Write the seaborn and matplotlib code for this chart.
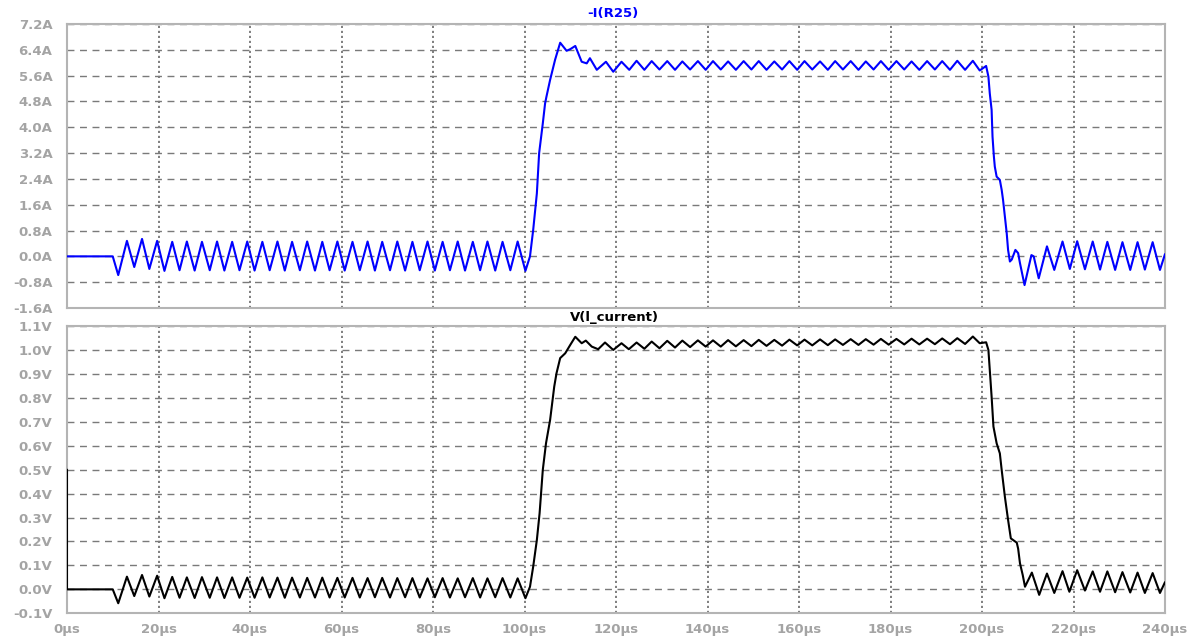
import matplotlib
matplotlib.use('Agg')
import matplotlib.pyplot as plt
import seaborn as sns
import pandas as pd

# ---- data (time in us) ----
# shared ripple extrema before the pulse (peak / trough alternating)
time_low = [10.0, 11.2, 13.1, 14.7, 16.4, 18.0, 19.7, 21.3,
            23.0, 24.6, 26.2, 27.9, 29.5, 31.2, 32.8, 34.4,
            36.1, 37.7, 39.4, 41.0, 42.7, 44.3, 46.0, 47.6,
            49.2, 50.9, 52.5, 54.2, 55.8, 57.4, 59.1, 60.7,
            62.4, 64.0, 65.7, 67.3, 68.9, 70.6, 72.2, 73.9,
            75.5, 77.1, 78.8, 80.4, 82.1, 83.7, 85.4, 87.0,
            88.7, 90.3, 91.9, 93.6, 95.2, 96.9, 98.5, 100.2]
i_low = [0.0, -0.58, 0.48, -0.33, 0.54, -0.39, 0.48, -0.45,
         0.45, -0.43, 0.46, -0.44, 0.45, -0.43, 0.46, -0.44,
         0.45, -0.43, 0.46, -0.44, 0.45, -0.43, 0.46, -0.44,
         0.45, -0.43, 0.46, -0.44, 0.45, -0.43, 0.46, -0.44,
         0.45, -0.43, 0.46, -0.44, 0.45, -0.43, 0.46, -0.44,
         0.45, -0.43, 0.46, -0.44, 0.45, -0.43, 0.46, -0.44,
         0.45, -0.43, 0.46, -0.44, 0.45, -0.43, 0.46, -0.45]
v_low = [0.0, -0.058, 0.053, -0.028, 0.060, -0.030, 0.057, -0.037,
         0.052, -0.035, 0.050, -0.036, 0.051, -0.035, 0.050, -0.036,
         0.050, -0.035, 0.049, -0.035, 0.050, -0.034, 0.049, -0.035,
         0.049, -0.034, 0.048, -0.034, 0.049, -0.034, 0.048, -0.034,
         0.048, -0.034, 0.047, -0.033, 0.048, -0.034, 0.047, -0.033,
         0.047, -0.034, 0.046, -0.033, 0.047, -0.034, 0.046, -0.033,
         0.047, -0.034, 0.046, -0.033, 0.047, -0.034, 0.046, -0.037]

# rising edge
time_i_rise = [101.2, 101.9, 102.7, 103.2, 104.0, 104.5, 104.8, 105.6,
               106.7, 107.8, 109.2, 110.0, 111.1, 112.5, 113.6, 114.3,
               115.8, 117.8, 119.4, 121.2, 122.9]
i_rise = [0.0, 0.82, 1.95, 3.2, 4.12, 4.74, 4.95, 5.47,
          6.1, 6.62, 6.37, 6.42, 6.52, 6.03, 5.98, 6.14,
          5.78, 6.03, 5.72, 6.03, 5.78]
time_v_rise = [101.2, 101.9, 102.7, 103.3, 104.0, 104.7, 105.6, 106.5,
               107.0, 107.8, 108.9, 110.0, 111.1, 112.5, 113.4, 114.7,
               116.1, 117.6, 119.4, 121.2, 122.8]
v_rise = [0.011, 0.095, 0.206, 0.318, 0.499, 0.61, 0.708, 0.847,
          0.903, 0.966, 0.986, 1.021, 1.055, 1.028, 1.039, 1.014,
          1.003, 1.031, 1.0, 1.028, 1.003]

# ripple on the flat top (peak / trough alternating)
time_high = [124.5, 126.2, 127.8, 129.5, 131.2, 132.9, 134.5, 136.2,
             137.9, 139.6, 141.2, 142.9, 144.5, 146.2, 147.9, 149.6,
             151.2, 152.9, 154.6, 156.3, 157.9, 159.6, 161.2, 162.9,
             164.6, 166.3, 167.9, 169.6, 171.3, 173.0, 174.6, 176.3,
             177.9, 179.6, 181.3, 183.0, 184.6, 186.3, 188.0, 189.7,
             191.3, 193.0, 194.6, 196.3, 198.0, 199.5]
i_high = [6.06, 5.78, 6.05, 5.79, 6.05, 5.78, 6.04, 5.79,
          6.05, 5.78, 6.05, 5.79, 6.04, 5.78, 6.05, 5.79,
          6.05, 5.78, 6.04, 5.79, 6.05, 5.78, 6.05, 5.79,
          6.04, 5.78, 6.05, 5.79, 6.05, 5.78, 6.04, 5.79,
          6.05, 5.78, 6.05, 5.79, 6.04, 5.78, 6.05, 5.79,
          6.05, 5.78, 6.06, 5.78, 6.06, 5.76]
v_high = [1.031, 1.005, 1.035, 1.007, 1.038, 1.010, 1.039, 1.012,
          1.040, 1.014, 1.040, 1.014, 1.041, 1.015, 1.041, 1.016,
          1.042, 1.017, 1.042, 1.018, 1.043, 1.019, 1.043, 1.019,
          1.044, 1.020, 1.044, 1.021, 1.045, 1.021, 1.045, 1.022,
          1.046, 1.022, 1.046, 1.023, 1.047, 1.023, 1.047, 1.024,
          1.048, 1.024, 1.049, 1.025, 1.056, 1.028]

# falling edge and ripple after the pulse
time_i_fall = [200.9, 201.4, 201.7, 202.1, 202.3, 202.6, 202.8, 203.2,
               203.9, 204.3, 204.6, 205.0, 205.4, 205.7, 206.1, 206.5,
               207.3, 207.9, 208.3, 209.3, 210.8, 211.3, 212.4, 214.2,
               215.8, 217.6, 219.2, 220.8, 222.5, 224.2, 225.8, 227.4,
               229.1, 230.7, 232.4, 234.0, 235.6, 237.3, 238.9, 240.0]
i_fall = [5.9, 5.57, 5.05, 4.54, 3.71, 3.09, 2.78, 2.47,
          2.37, 2.06, 1.75, 1.23, 0.72, 0.2, -0.16, -0.1,
          0.2, 0.1, -0.21, -0.89, 0.04, 0.0, -0.68, 0.31,
          -0.42, 0.46, -0.39, 0.47, -0.40, 0.46, -0.41, 0.45,
          -0.42, 0.44, -0.42, 0.44, -0.41, 0.44, -0.42, 0.07]
time_v_fall = [200.9, 201.4, 201.7, 202.1, 202.5, 203.2, 203.9, 204.3,
               205.0, 205.7, 206.3, 206.8, 207.6, 207.9, 208.3, 208.9,
               209.4, 210.9, 212.5, 214.2, 215.8, 217.6, 219.1, 220.8,
               222.5, 224.2, 225.8, 227.4, 229.1, 230.7, 232.4, 234.0,
               235.6, 237.3, 238.9, 240.0]
v_fall = [1.032, 1.0, 0.917, 0.805, 0.68, 0.61, 0.568, 0.499,
          0.387, 0.29, 0.213, 0.206, 0.195, 0.17, 0.109, 0.06,
          0.011, 0.07, -0.023, 0.066, -0.015, 0.076, -0.01, 0.08,
          -0.005, 0.075, -0.01, 0.075, -0.012, 0.072, -0.013, 0.07,
          -0.015, 0.068, -0.015, 0.03]

i_ticks = [-1.6, -0.8, 0.0, 0.8, 1.6, 2.4, 3.2, 4.0, 4.8, 5.6, 6.4, 7.2]
v_ticks = [-0.1, 0.0, 0.1, 0.2, 0.3, 0.4, 0.5, 0.6, 0.7, 0.8, 0.9, 1.0, 1.1]
t_ticks = [0, 20, 40, 60, 80, 100, 120, 140, 160, 180, 200, 220, 240]

df_i = pd.DataFrame({
    't': [0.0] + time_low + time_i_rise + time_high + time_i_fall,
    'val': [0.0] + i_low + i_rise + i_high + i_fall})
df_v = pd.DataFrame({
    't': [0.0, 0.0] + time_low + time_v_rise + time_high + time_v_fall,
    'val': [0.5, 0.0] + v_low + v_rise + v_high + v_fall})

sns.set_style('white')
plt.rcParams['font.family'] = ['DejaVu Sans']
plt.rcParams['axes.unicode_minus'] = False

grey = '#a4a4a4'
fig = plt.figure(figsize=(11.99, 6.38), dpi=100)
ax1 = fig.add_axes([67/1199, 1 - 308/638, 1098/1199, 284/638])
ax2 = fig.add_axes([67/1199, 1 - 613.3/638, 1098/1199, 287.3/638])

sns.lineplot(data=df_i, x='t', y='val', ax=ax1, color='#0000ff', lw=1.5,
             estimator=None, sort=False, zorder=3)
sns.lineplot(data=df_v, x='t', y='val', ax=ax2, color='black', lw=1.5,
             estimator=None, sort=False, zorder=3)

for ax, ticks, unit in [(ax1, i_ticks, 'A'), (ax2, v_ticks, 'V')]:
    ax.set_xlim(0, 240)
    ax.set_ylim(ticks[0], ticks[-1])
    ax.set_xticks(t_ticks)
    ax.set_yticks(ticks)
    ax.set_yticklabels([f'{v:.1f}{unit}' for v in ticks],
                       fontsize=9.5, fontweight='bold', color=grey)
    ax.set_xlabel('')
    ax.set_ylabel('')
    ax.set_axisbelow(True)
    ax.yaxis.grid(True, linestyle=(0, (5, 4)), color='#7a7a7a', lw=1)
    ax.xaxis.grid(True, linestyle=(0, (1.3, 1.7)), color='#6a6a6a', lw=1.2)
    ax.tick_params(axis='y', direction='out', length=10, width=1, color=grey, pad=0.5)
    for s in ax.spines.values():
        s.set_color('#b4b4b4')
        s.set_linewidth(1.5)
        s.set_zorder(2.5)

ax1.tick_params(axis='x', length=0, labelbottom=False)
ax2.set_xticklabels([f'{t}µs' for t in t_ticks], fontsize=9.5,
                    fontweight='bold', color=grey)
ax2.tick_params(axis='x', direction='out', length=5, width=1, color=grey, pad=2)

fig.text(613/1199, 1 - 14/638, '-I(R25)', color='#0000ff', fontsize=9.5,
         fontweight='bold', ha='center', va='center')
fig.text(614/1199, 1 - 317/638, 'V(l_current)', color='black', fontsize=9.5,
         fontweight='bold', ha='center', va='center')

fig.savefig('out.png', dpi=100, facecolor='white')
